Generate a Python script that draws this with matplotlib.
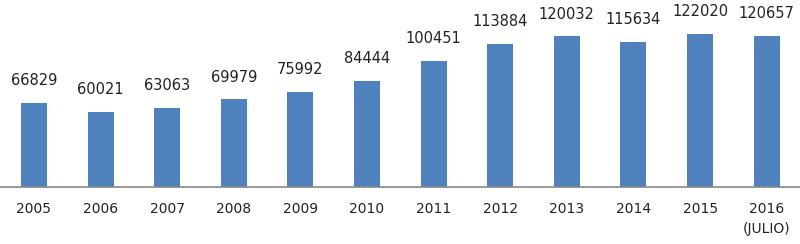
import matplotlib.pyplot as plt

years = ["2005", "2006", "2007", "2008", "2009", "2010", "2011", "2012",
         "2013", "2014", "2015", "2016\n(JULIO)"]
values = [66829, 60021, 63063, 69979, 75992, 84444, 100451, 113884,
          120032, 115634, 122020, 120657]

fig = plt.figure(figsize=(8, 2.44), dpi=100)
ax = fig.add_axes([0, 0.234, 1, 0.766])

x = range(len(years))
ax.bar(x, values, width=0.39, color="#4F81BD")

for i, v in zip(x, values):
    ax.annotate(str(v), (i, v), xytext=(0, 10.5), textcoords="offset points",
                ha="center", va="bottom", fontsize=10.5, color="#222222")

ax.set_xlim(-0.51, 11.5)
ax.set_ylim(0, 149000)
ax.set_xticks(list(x))
ax.set_xticklabels(years, fontsize=10, color="#222222", va="top",
                   linespacing=1.5)
ax.tick_params(axis="x", length=0, pad=11)
ax.set_yticks([])
for s in ["top", "left", "right"]:
    ax.spines[s].set_visible(False)
ax.spines["bottom"].set_color("#888888")
ax.spines["bottom"].set_linewidth(1.2)

fig.savefig("out.png", dpi=100)
